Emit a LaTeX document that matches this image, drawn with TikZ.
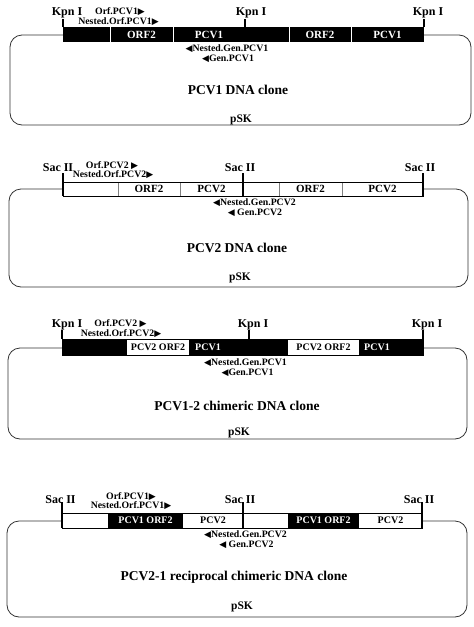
\documentclass[tikz,border=0pt]{standalone}
\usepackage{fontspec}
\setmainfont{Liberation Serif}
\newfontfamily\trifont{DejaVu Sans}
\usetikzlibrary{positioning}

\newcommand{\rtri}{{\trifont\fontsize{9}{9}\selectfont ▶}}
\newcommand{\ltri}{{\trifont\fontsize{9}{9}\selectfont ◀}}

\begin{document}
\begin{tikzpicture}[x=1pt,y=-1pt]
\tikzset{vec/.style={draw=black!80,line width=0.8pt,rounded corners=12pt,inner sep=0pt}}
\tikzset{seg/.style={rectangle,inner sep=0pt,outer sep=0pt,font=\fontsize{11}{11}\selectfont\bfseries}}
\tikzset{blk/.style={seg,fill=black,text=white}}
\tikzset{wht/.style={seg,fill=white,text=black}}
\tikzset{small/.style={font=\fontsize{10}{10}\selectfont\bfseries}}
\tikzset{site/.style={font=\fontsize{12}{12}\selectfont\bfseries,inner sep=0pt}}
\tikzset{primer/.style={font=\fontsize{9.8}{9.8}\selectfont\bfseries,inner sep=0pt}}
\tikzset{title/.style={font=\fontsize{13.5}{13.5}\selectfont\bfseries,inner sep=0pt}}
\tikzset{vecname/.style={font=\fontsize{11.5}{11.5}\selectfont\bfseries,inner sep=0pt}}
\tikzset{tick/.style={line width=1.4pt}}
\tikzset{tickb/.style={line width=2.4pt}}
\tikzset{dvw/.style={white,line width=0.7pt}}
\tikzset{dvg/.style={black!50,line width=0.7pt}}

\useasboundingbox (0,0) rectangle (474,627);

% PCV1 DNA clone
\node[vec,minimum width=461pt,minimum height=90pt] (v1) at (240.5,80) {};
\node[blk,minimum height=15pt,minimum width=47pt,anchor=west] (s1a) at (63,34.5) {};
\node[blk,minimum height=15pt,minimum width=63pt,right=0pt of s1a] (s1b) {ORF2};
\node[blk,minimum height=15pt,minimum width=72pt,right=0pt of s1b] (s1c) {PCV1};
\node[blk,minimum height=15pt,minimum width=44pt,right=0pt of s1c] (s1d) {};
\node[blk,minimum height=15pt,minimum width=62pt,right=0pt of s1d] (s1e) {ORF2};
\node[blk,minimum height=15pt,minimum width=73pt,right=0pt of s1e] (s1f) {PCV1};
\foreach \s in {s1b,s1c,s1e,s1f} \draw[dvw] (\s.north west) -- (\s.south west);
\draw[tick] (s1a.north west) -- ++(0,-8);
\draw[tick] (s1d.north west) -- ++(0,-8);
\draw[tick] (s1f.north east) -- ++(0,-8);
\node[site] (k1a) at (67,13) {Kpn I};
\node[site] (k1b) at (251,13) {Kpn I};
\node[site] (k1c) at (428,13) {Kpn I};
\node[primer] (p1a) at (120,12) {Orf.PCV1\rtri};
\node[primer] (p1b) at (118.5,22) {Nested.Orf.PCV1\rtri};
\node[primer] (p1c) at (227,48.5) {\ltri Nested.Gen.PCV1};
\node[primer] (p1d) at (228,59) {\ltri Gen.PCV1};
\node[title] (t1) at (238,90) {PCV1 DNA clone};
\node[vecname] (n1) at (241,120) {pSK};

% PCV2 DNA clone
\node[vec,minimum width=459pt,minimum height=98pt] (v2) at (238.5,238) {};
\node[wht,minimum height=14pt,minimum width=55pt,anchor=west] (s2a) at (63,189) {};
\node[wht,minimum height=14pt,minimum width=62pt,right=0pt of s2a] (s2b) {ORF2};
\node[wht,minimum height=14pt,minimum width=63pt,right=0pt of s2b] (s2c) {PCV2};
\node[wht,minimum height=14pt,minimum width=36pt,right=0pt of s2c] (s2d) {};
\node[wht,minimum height=14pt,minimum width=63pt,right=0pt of s2d] (s2e) {ORF2};
\node[wht,minimum height=14pt,minimum width=81pt,right=0pt of s2e] (s2f) {PCV2};
\foreach \s in {s2b,s2c,s2e,s2f} \draw[dvg] (\s.north west) -- (\s.south west);
\draw[line width=0.6pt] (s2a.north west) rectangle (s2f.south east);
\draw[tickb] (s2a.south west) -- ++(0,-23);
\draw[tickb] (s2d.south west) -- ++(0,-23);
\draw[tickb] (s2f.south east) -- ++(0,-23);
\node[site] (k2a) at (58,168) {Sac II};
\node[site] (k2b) at (240,168) {Sac II};
\node[site] (k2c) at (420,168) {Sac II};
\node[primer] (p2a) at (112,166) {Orf.PCV2 \rtri};
\node[primer] (p2b) at (113,175) {Nested.Orf.PCV2\rtri};
\node[primer] (p2c) at (254.5,203) {\ltri Nested.Gen.PCV2};
\node[primer] (p2d) at (255,213) {\ltri\ Gen.PCV2};
\node[title] (t2) at (237,248) {PCV2 DNA clone};
\node[vecname] (n2) at (240,278) {pSK};

% PCV1-2 chimeric DNA clone
\node[vec,minimum width=459pt,minimum height=91pt] (v3) at (237.5,393.5) {};
\node[blk,minimum height=16pt,minimum width=65pt,anchor=west] (s3a) at (62,347) {};
\node[wht,small,minimum height=16pt,minimum width=62pt,right=0pt of s3a] (s3b) {PCV2 ORF2};
\node[blk,small,minimum height=16pt,minimum width=38pt,right=0pt of s3b] (s3c) {PCV1};
\node[blk,minimum height=16pt,minimum width=22pt,right=0pt of s3c] (s3d) {};
\node[blk,minimum height=16pt,minimum width=39pt,right=0pt of s3d] (s3e) {};
\node[wht,small,minimum height=16pt,minimum width=71pt,right=0pt of s3e] (s3f) {PCV2 ORF2};
\node[blk,small,minimum height=16pt,minimum width=36pt,right=0pt of s3f] (s3g) {PCV1};
\node[blk,minimum height=16pt,minimum width=28pt,right=0pt of s3g] (s3h) {};
\draw[line width=0.8pt] (s3a.north west) rectangle (s3h.south east);
\draw[tick] (s3a.north west) -- ++(0,-9);
\draw[tick] (s3e.north west) -- ++(0,-9);
\draw[tick] (s3h.north east) -- ++(0,-9);
\node[site] (k3a) at (67,325) {Kpn I};
\node[site] (k3b) at (253,325) {Kpn I};
\node[site] (k3c) at (427,325) {Kpn I};
\node[primer] (p3a) at (120.5,324) {Orf.PCV2 \rtri};
\node[primer] (p3b) at (121,334) {Nested.Orf.PCV2\rtri};
\node[primer] (p3c) at (245.5,363) {\ltri Nested.Gen.PCV1};
\node[primer] (p3d) at (247.5,373) {\ltri Gen.PCV1};
\node[title] (t3) at (237,406) {PCV1-2 chimeric DNA clone};
\node[vecname] (n3) at (239,433) {pSK};

% PCV2-1 reciprocal chimeric DNA clone
\node[vec,minimum width=460pt,minimum height=96pt] (v4) at (237,569) {};
\node[wht,minimum height=15pt,minimum width=46pt,anchor=west] (s4a) at (62,520.5) {};
\node[blk,small,minimum height=15pt,minimum width=75pt,right=0pt of s4a] (s4b) {PCV1 ORF2};
\node[wht,small,minimum height=15pt,minimum width=60pt,right=0pt of s4b] (s4c) {PCV2};
\node[wht,minimum height=15pt,minimum width=45pt,right=0pt of s4c] (s4d) {};
\node[blk,small,minimum height=15pt,minimum width=71pt,right=0pt of s4d] (s4e) {PCV1 ORF2};
\node[wht,small,minimum height=15pt,minimum width=63pt,right=0pt of s4e] (s4f) {PCV2};
\draw[line width=0.6pt] (s4a.north west) rectangle (s4f.south east);
\draw[tickb] (s4a.south west) -- ++(0,-26);
\draw[tickb] (s4d.south west) -- ++(0,-26);
\draw[tickb] (s4f.south east) -- ++(0,-26);
\node[site] (k4a) at (60.5,500) {Sac II};
\node[site] (k4b) at (240,500) {Sac II};
\node[site] (k4c) at (419,500) {Sac II};
\node[primer] (p4a) at (131,497) {Orf.PCV1\rtri};
\node[primer] (p4b) at (131,506) {Nested.Orf.PCV1\rtri};
\node[primer] (p4c) at (245.5,535) {\ltri Nested.Gen.PCV2};
\node[primer] (p4d) at (246.5,545) {\ltri\ Gen.PCV2};
\node[title] (t4) at (234,577) {PCV2-1 reciprocal chimeric DNA clone};
\node[vecname] (n4) at (242,607) {pSK};

\end{tikzpicture}
\end{document}
